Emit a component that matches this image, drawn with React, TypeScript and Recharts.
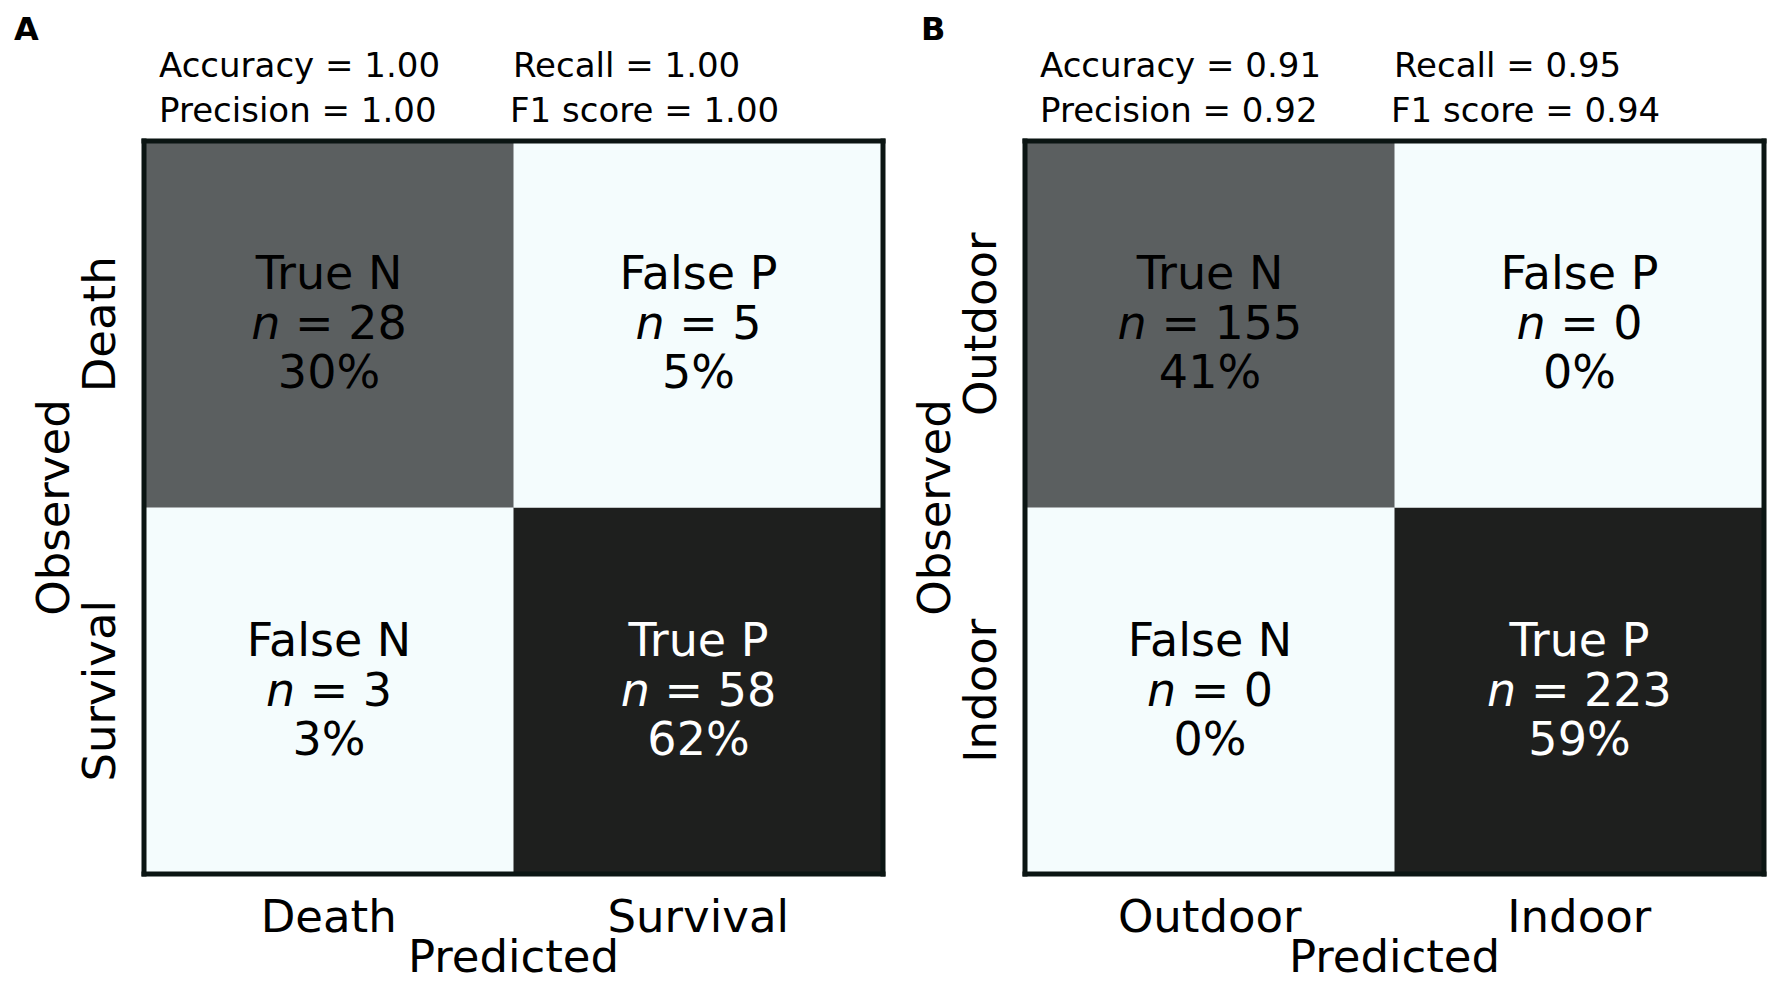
import React from "react";
import { BarChart, Bar, XAxis, YAxis, Cell, LabelList } from "recharts";

// Panel A: death / survival
const predictedA = ["Death", "Survival"];
const observedA = ["Death", "Survival"];
const countsTopA = [28, 5];
const countsBottomA = [3, 58];
const percentTopA = [30, 5];
const percentBottomA = [3, 62];
const metricsA = [1.0, 1.0, 1.0, 1.0];

// Panel B: outdoor / indoor
const predictedB = ["Outdoor", "Indoor"];
const observedB = ["Outdoor", "Indoor"];
const countsTopB = [155, 0];
const countsBottomB = [0, 223];
const percentTopB = [41, 0];
const percentBottomB = [0, 59];
const metricsB = [0.91, 0.92, 0.95, 0.94];

// shared
const outcomeTop = ["True N", "False P"];
const outcomeBottom = ["False N", "True P"];
const metricNames = ["Accuracy", "Precision", "Recall", "F1 score"];

const FONT = '"DejaVu Sans", "Liberation Sans", sans-serif';
const FRAME = "#0b1513";
const FILLS: Record<string, string> = {
  "True N": "#5b5f60",
  "False P": "#f4fcfd",
  "False N": "#f4fcfd",
  "True P": "#1e1f1e",
};
const INK: Record<string, string> = {
  "True N": "#000000",
  "False P": "#000000",
  "False N": "#000000",
  "True P": "#ffffff",
};

const PLOT_W = 739;
const PLOT_H = 733;
const PLOT_TOP = 141;
const Y_AXIS_W = 100;
const X_AXIS_H = 100;
const BIG = 45;

interface MatrixProps {
  letter: string;
  letterX: number;
  plotLeft: number;
  width: number;
  predicted: string[];
  observed: string[];
  countsTop: number[];
  countsBottom: number[];
  percentTop: number[];
  percentBottom: number[];
  metrics: number[];
}

function makeCellText(rows: any[], row: "top" | "bottom") {
  return (props: any) => {
    const vb = props.viewBox && props.viewBox.width != null ? props.viewBox : props;
    const { x, y, width, height } = vb;
    const r = rows[props.index];
    if (!r) return null;
    const kind = row === "top" ? r.topKind : r.bottomKind;
    const n = row === "top" ? r.topN : r.bottomN;
    const pct = row === "top" ? r.topPct : r.bottomPct;
    const cx = x + width / 2;
    const cy = y + height / 2;
    return (
      <g fontFamily={FONT} fontSize={46} fill={INK[kind]} textAnchor="middle">
        <text x={cx} y={cy - 35}>{kind}</text>
        <text x={cx} y={cy + 15}>
          <tspan fontStyle="italic">n</tspan> = {n}
        </text>
        <text x={cx} y={cy + 64}>{pct}%</text>
      </g>
    );
  };
}

function Matrix(p: MatrixProps) {
  const rows = p.predicted.map((name, i) => ({
    pred: name,
    bottom: 1,
    top: 1,
    topKind: outcomeTop[i],
    bottomKind: outcomeBottom[i],
    topN: p.countsTop[i],
    bottomN: p.countsBottom[i],
    topPct: p.percentTop[i],
    bottomPct: p.percentBottom[i],
  }));

  const frameLine = { stroke: FRAME, strokeWidth: 5, strokeLinecap: "square" as const };

  const XTick = (t: any) => (
    <text x={t.x} y={t.y + 58} textAnchor="middle" fontFamily={FONT} fontSize={BIG} fill="#000">
      {t.payload.value}
    </text>
  );

  const YTick = (t: any) => {
    const label = t.payload.value > 1 ? p.observed[0] : p.observed[1];
    const bx = t.x - 29;
    return (
      <text
        x={bx}
        y={t.y}
        transform={`rotate(-90 ${bx} ${t.y})`}
        textAnchor="middle"
        fontFamily={FONT}
        fontSize={BIG}
        fill="#000"
      >
        {label}
      </text>
    );
  };

  const XTitle = (props: any) => {
    const { x, y, width } = props.viewBox;
    return (
      <text x={x + width / 2} y={y + 98} textAnchor="middle" fontFamily={FONT} fontSize={BIG} fill="#000">
        Predicted
      </text>
    );
  };

  const YTitle = (props: any) => {
    const { x, y, width, height } = props.viewBox;
    const bx = x + width - 75;
    const cy = y + height / 2;
    return (
      <text
        x={bx}
        y={cy}
        transform={`rotate(-90 ${bx} ${cy})`}
        textAnchor="middle"
        fontFamily={FONT}
        fontSize={BIG}
        fill="#000"
      >
        Observed
      </text>
    );
  };

  const fmt = (v: number) => v.toFixed(2);

  return (
    <BarChart
      width={p.width}
      height={983}
      data={rows}
      barCategoryGap={0}
      barGap={0}
      margin={{
        top: PLOT_TOP - 1,
        left: p.plotLeft - Y_AXIS_W,
        right: p.width - p.plotLeft - PLOT_W - 1,
        bottom: 983 - PLOT_TOP - PLOT_H - X_AXIS_H,
      }}
    >
      <text x={p.letterX} y={40} fontFamily={FONT} fontSize={32} fontWeight="bold" fill="#000">
        {p.letter}
      </text>
      <g fontFamily={FONT} fontSize={34} fill="#000">
        <text x={p.plotLeft + 15} y={77}>{`${metricNames[0]} = ${fmt(p.metrics[0])}`}</text>
        <text x={p.plotLeft + 15} y={122}>{`${metricNames[1]} = ${fmt(p.metrics[1])}`}</text>
        <text x={p.plotLeft + 369} y={77}>{`${metricNames[2]} = ${fmt(p.metrics[2])}`}</text>
        <text x={p.plotLeft + 366} y={122}>{`${metricNames[3]} = ${fmt(p.metrics[3])}`}</text>
      </g>
      <XAxis
        dataKey="pred"
        type="category"
        height={X_AXIS_H}
        tickSize={0}
        tickMargin={0}
        tickLine={false}
        axisLine={frameLine}
        tick={<XTick />}
        label={<XTitle />}
      />
      <XAxis
        xAxisId="top"
        dataKey="pred"
        type="category"
        orientation="top"
        height={1}
        tick={false}
        tickLine={false}
        axisLine={frameLine}
      />
      <YAxis
        type="number"
        domain={[0, 2]}
        ticks={[0.5, 1.5]}
        width={Y_AXIS_W}
        tickSize={0}
        tickMargin={0}
        tickLine={false}
        axisLine={frameLine}
        tick={<YTick />}
        label={<YTitle />}
      />
      <YAxis
        yAxisId="right"
        type="number"
        orientation="right"
        domain={[0, 2]}
        ticks={[0, 2]}
        width={1}
        tick={false}
        tickLine={false}
        axisLine={frameLine}
      />
      <Bar dataKey="bottom" stackId="m" isAnimationActive={false}>
        {rows.map((r, i) => (
          <Cell key={`b-${i}`} fill={FILLS[r.bottomKind]} />
        ))}
        <LabelList dataKey="bottom" content={makeCellText(rows, "bottom")} />
      </Bar>
      <Bar dataKey="top" stackId="m" isAnimationActive={false}>
        {rows.map((r, i) => (
          <Cell key={`t-${i}`} fill={FILLS[r.topKind]} />
        ))}
        <LabelList dataKey="top" content={makeCellText(rows, "top")} />
      </Bar>
    </BarChart>
  );
}

export default function App() {
  return (
    <div style={{ position: "relative", width: 1775, height: 983, background: "#fff", overflow: "hidden" }}>
      <style>{"body{margin:0}"}</style>
      <div style={{ position: "absolute", left: 0, top: 0 }}>
        <Matrix
          letter="A"
          letterX={14}
          plotLeft={144}
          width={888}
          predicted={predictedA}
          observed={observedA}
          countsTop={countsTopA}
          countsBottom={countsBottomA}
          percentTop={percentTopA}
          percentBottom={percentBottomA}
          metrics={metricsA}
        />
      </div>
      <div style={{ position: "absolute", left: 888, top: 0 }}>
        <Matrix
          letter="B"
          letterX={33}
          plotLeft={137}
          width={887}
          predicted={predictedB}
          observed={observedB}
          countsTop={countsTopB}
          countsBottom={countsBottomB}
          percentTop={percentTopB}
          percentBottom={percentBottomB}
          metrics={metricsB}
        />
      </div>
    </div>
  );
}
